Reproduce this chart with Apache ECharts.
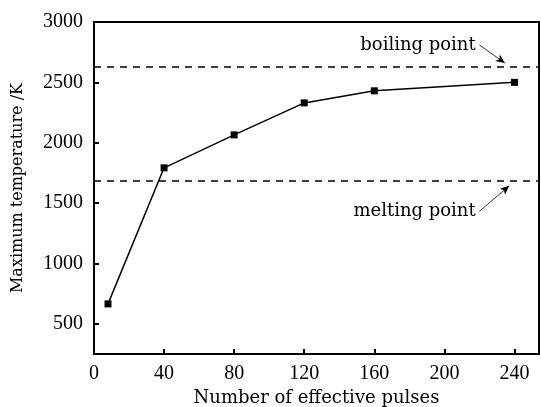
<!DOCTYPE html>
<html><head><meta charset="utf-8">
<script src="https://cdn.jsdelivr.net/npm/echarts@6/dist/echarts.min.js"></script>
<style>html,body{margin:0;padding:0;background:#fff}#c{width:541px;height:407px}</style>
</head><body><div id="c"></div>
<script>
const pulses = [8, 40, 80, 120, 160, 240];
const maxTemp = [665, 1792, 2065, 2330, 2430, 2500];
const boilingPoint = 2630;
const meltingPoint = 1685;
const xTicks = [0, 40, 80, 120, 160, 200, 240];
const yTicks = [500, 1000, 1500, 2000, 2500, 3000];
const boilLabel = {text: 'boiling point', at: [219, 2810], arrowTo: [234.5, 2660]};
const meltLabel = {text: 'melting point', at: [219, 1432], arrowTo: [237, 1643]};

const font = 'DejaVu Serif';
const numFont = 'Liberation Serif';
const chart = echarts.init(document.getElementById('c'));
chart.setOption({
  animation: false,
  grid: {left: 94, right: 2, top: 22, bottom: 53, show: true, borderColor: '#000', borderWidth: 2,
    containLabel: false, outerBoundsMode: 'none'},
  xAxis: {
    type: 'value', min: 0, max: 254, interval: 40,
    name: 'Number of effective pulses', nameLocation: 'middle', nameGap: 35,
    nameTextStyle: {fontFamily: font, fontSize: 18, color: '#000'},
    axisLine: {show: true, lineStyle: {color: '#000', width: 2}},
    axisTick: {show: true, inside: true, length: 5, lineStyle: {color: '#000', width: 2}, customValues: xTicks.filter(v => v > 0)},
    axisLabel: {fontFamily: numFont, fontSize: 20, color: '#000', margin: 10, customValues: xTicks, formatter: v => String(v)},
    splitLine: {show: false}
  },
  yAxis: {
    type: 'value', min: 250, max: 3000, interval: 250,
    name: 'Maximum temperature /K', nameLocation: 'middle', nameGap: 68,
    nameTextStyle: {fontFamily: font, fontSize: 16, color: '#000'},
    axisLine: {show: true, lineStyle: {color: '#000', width: 2}},
    axisTick: {show: true, inside: true, length: 5, lineStyle: {color: '#000', width: 2}, customValues: yTicks},
    axisLabel: {fontFamily: numFont, fontSize: 20, color: '#000', margin: 11, customValues: yTicks, formatter: v => String(v)},
    splitLine: {show: false}
  },
  series: [
    {
      type: 'line', data: pulses.map((p, i) => [p, maxTemp[i]]),
      symbol: 'rect', symbolSize: 7, showSymbol: true,
      lineStyle: {color: '#000', width: 1.5}, itemStyle: {color: '#000'},
      z: 5,
      markLine: {
        silent: true, symbol: ['none', 'none'],
        label: {show: false},
        lineStyle: {color: '#000', width: 1.5, type: [7, 6]},
        data: [{yAxis: boilingPoint}, {yAxis: meltingPoint}]
      }
    },
    {
      type: 'line', data: [], silent: true,
      markLine: {
        silent: true, symbol: ['none', 'arrow'], symbolSize: [6, 9],
        label: {show: false},
        lineStyle: {color: '#000', width: 0.8, type: 'solid'},
        data: [
          [{coord: boilLabel.at.map((v, i) => i === 0 ? v + 1 : v)}, {coord: boilLabel.arrowTo}],
          [{coord: meltLabel.at.map((v, i) => i === 0 ? v + 1 : v)}, {coord: meltLabel.arrowTo}]
        ]
      }
    },
    {
      type: 'scatter', symbolSize: 0, silent: true,
      itemStyle: {opacity: 1, color: '#000'},
      data: [
        {value: boilLabel.at, name: boilLabel.text},
        {value: meltLabel.at, name: meltLabel.text}
      ],
      label: {show: true, position: 'left', distance: 2, formatter: p => p.name,
        fontFamily: font, fontSize: 18, color: '#000', textBorderWidth: 0}
    }
  ]
});
</script></body></html>
